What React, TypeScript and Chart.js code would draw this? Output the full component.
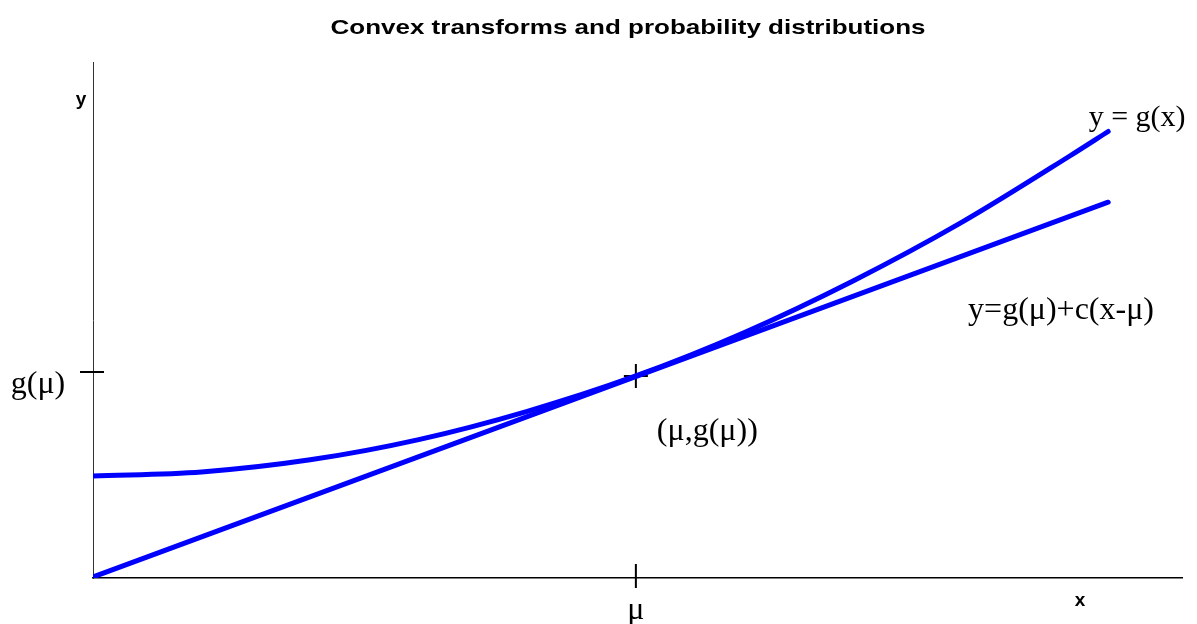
import React, { useEffect, useRef } from "react";
import { Chart, registerables } from "chart.js";

Chart.register(...registerables);

const TITLE = "Convex transforms and probability distributions";
const MU = 5;
const G_MU = 10;
const X_MAX = 10.03;
const Y_MAX = 25.54;

const curveX = [0, 1, 2, 3, 4, 5, 6, 7, 8, 9, 9.35];
const curveY = [5.05, 5.25, 5.85, 6.85, 8.25, 10.0, 12.15, 14.7, 17.6, 20.9, 22.1];
const tangentX = [0, 9.35];
const tangentY = [0.05, 18.6];

const BLUE = "rgb(0,0,255)";
const SERIF = '"Liberation Serif", "Times New Roman", serif';
const SANS = '"Liberation Sans", Arial, sans-serif';

const decorPlugin = {
  id: "decor",
  afterDraw(chart: any) {
    const ctx = chart.ctx;
    const xs = chart.scales.x;
    const ys = chart.scales.y;
    const area = chart.chartArea;
    const muPx = xs.getPixelForValue(MU);
    const gPx = ys.getPixelForValue(G_MU);
    ctx.save();
    // ticks
    ctx.strokeStyle = "#000";
    ctx.lineWidth = 2;
    ctx.beginPath();
    ctx.moveTo(muPx, area.bottom - 14);
    ctx.lineTo(muPx, area.bottom + 10);
    ctx.moveTo(area.left - 13, gPx - 4);
    ctx.lineTo(area.left + 11, gPx - 4);
    ctx.stroke();

    ctx.fillStyle = "#000";
    // title (horizontally widened like the reference)
    ctx.save();
    ctx.font = `bold 21px ${SANS}`;
    ctx.textAlign = "center";
    ctx.textBaseline = "middle";
    const w = ctx.measureText(TITLE).width;
    const sx = 595 / w;
    ctx.translate(628, 28);
    ctx.scale(sx, 1);
    ctx.fillText(TITLE, 0, 0);
    ctx.restore();

    ctx.textBaseline = "middle";
    // axis labels
    ctx.font = `bold 19px ${SANS}`;
    ctx.textAlign = "center";
    ctx.fillText("y", area.left - 12, 100);
    ctx.fillText("x", 1080, area.bottom + 23);

    ctx.font = `32px ${SERIF}`;
    ctx.fillText("g(\u03bc)", area.left - 55, gPx + 9);
    ctx.fillText("\u03bc", muPx, area.bottom + 33);
    ctx.textAlign = "left";
    ctx.fillText("(\u03bc,g(\u03bc))", muPx + 21, gPx + 56);
    ctx.fillText("y=g(\u03bc)+c(x-\u03bc)", xs.getPixelForValue(8.06), 311);
    ctx.font = `30px ${SERIF}`;
    ctx.fillText("y = g(x)", xs.getPixelForValue(9.17), 118);
    ctx.restore();
  },
};

export default function App() {
  const ref = useRef<HTMLCanvasElement>(null);
  useEffect(() => {
    document.body.style.margin = "0";
    const chart = new Chart(ref.current!, {
      type: "scatter",
      data: {
        datasets: [
          {
            data: curveX.map((x, i) => ({ x, y: curveY[i] })),
            showLine: true,
            borderColor: BLUE,
            borderWidth: 5,
            pointRadius: 0,
            cubicInterpolationMode: "monotone",
            borderCapStyle: "round",
          } as any,
          {
            data: tangentX.map((x, i) => ({ x, y: tangentY[i] })),
            showLine: true,
            borderColor: BLUE,
            borderWidth: 5,
            pointRadius: 0,
            borderCapStyle: "round",
          } as any,
          {
            data: [{ x: MU, y: G_MU }],
            pointStyle: "cross",
            pointRadius: 12,
            borderColor: "#000",
            backgroundColor: "#000",
            borderWidth: 2,
          } as any,
        ],
      },
      options: {
        animation: false,
        responsive: false,
        maintainAspectRatio: false,
        layout: { padding: { left: 93, right: 15, top: 62, bottom: 46 } },
        plugins: { legend: { display: false }, tooltip: { enabled: false }, title: { display: false } },
        scales: {
          x: {
            type: "linear",
            min: 0,
            max: X_MAX,
            ticks: { display: false },
            grid: { display: false, drawTicks: false },
            border: { display: true, color: "#000", width: 1.5 },
            afterFit: (s: any) => { s.height = 0; },
          },
          y: {
            type: "linear",
            min: 0,
            max: Y_MAX,
            ticks: { display: false },
            grid: { display: false, drawTicks: false },
            border: { display: true, color: "#333", width: 1 },
            afterFit: (s: any) => { s.width = 0; },
          },
        },
      } as any,
      plugins: [decorPlugin],
    });
    return () => chart.destroy();
  }, []);
  return (
    <div style={{ position: "absolute", left: 0, top: 0, width: 1197, height: 624, background: "#fff" }}>
      <canvas ref={ref} width={1197} height={624} style={{ width: 1197, height: 624 }} />
    </div>
  );
}
